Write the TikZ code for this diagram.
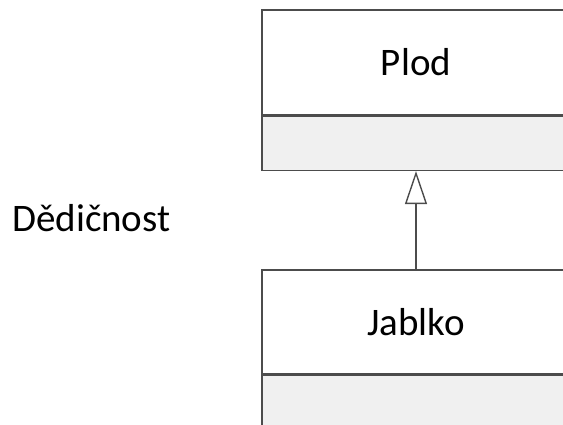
\documentclass[tikz,border=0pt]{standalone}
\usepackage{fontspec}
\setmainfont{Carlito}
\usetikzlibrary{arrows.meta}
\tikzset{
	classname/.style={draw=black!70, line width=1.4pt, fill=white, minimum width=308pt, minimum height=105pt, inner sep=0pt, font=\fontsize{39}{39}\selectfont},
	classattr/.style={draw=black!70, line width=1.4pt, fill=black!6, minimum width=308pt, minimum height=54pt, inner sep=0pt},
	inherit/.style={draw=black!70, line width=1.6pt, -{Triangle[open, length=33pt, width=22pt, line width=1.4pt]}}
}

\begin{document}
\begin{tikzpicture}[x=1pt, y=-1pt]
			%%%%% START %%%%%
			
			\useasboundingbox (0, 0) rectangle (563, 425);
			\clip (0, 0) rectangle (563, 425);
			
			\node[classname] (plod) at (416, 62.5) {Plod};
			\node[classattr, anchor=north] (plodattr) at (plod.south) {};
			
			\node[classname, minimum height=104pt] (jablko) at (416, 322) {Jablko};
			\node[classattr, anchor=north, minimum height=60pt] (jablkoattr) at (jablko.south) {};
			
			\draw[inherit] (jablko.north) -- (plodattr.south);
			
			\node[font=\fontsize{39}{39}\selectfont, anchor=west, inner sep=0pt] (dedicnost) at (12, 218) {Dědičnost};
			
			%%%%% END %%%%%
		\end{tikzpicture}
\end{document}
